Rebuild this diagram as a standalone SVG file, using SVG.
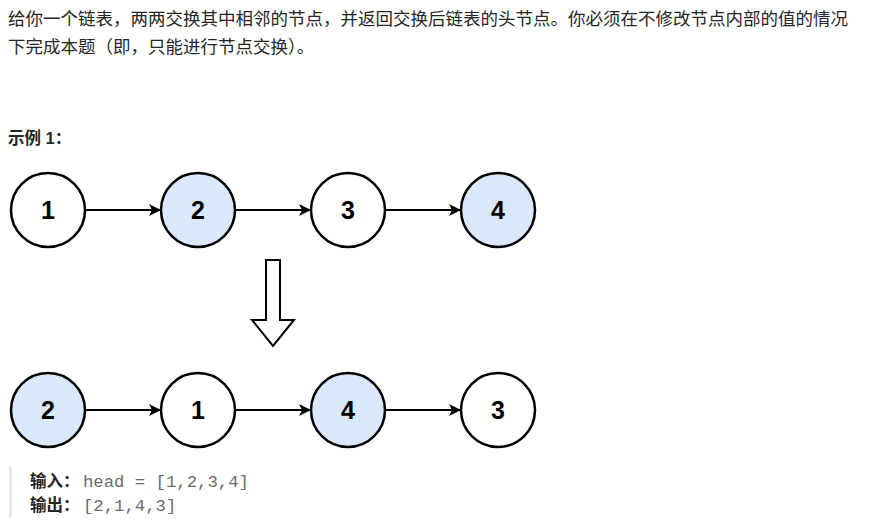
<svg xmlns="http://www.w3.org/2000/svg" width="871" height="525" viewBox="0 0 871 525">
<defs>
<style>
.t{font-family:"Liberation Sans","Noto Sans CJK SC",sans-serif;fill:#262626}
.n circle{stroke:#000;stroke-width:2.5}
.n text{font-family:"Liberation Sans",Arial,sans-serif;font-weight:bold;font-size:25px;text-anchor:middle;fill:#000}
.w{fill:#fff}.b{fill:#dae8fc}
.c line{stroke:#000;stroke-width:2}
.m{font-family:"Liberation Mono","DejaVu Sans Mono",monospace;fill:#6b6b6b;font-size:17.3px}
</style>
<marker id="ah" markerWidth="12" markerHeight="12" refX="11" refY="6" orient="auto" markerUnits="userSpaceOnUse" viewBox="0 0 12 12">
<path d="M0,0 L12,6 L0,12 L3,6 z" fill="#000"/>
</marker>
</defs>
<rect width="871" height="525" fill="#fff"/>
<text class="t" x="8" y="25" font-size="17.5">给你一个链表，两两交换其中相邻的节点，并返回交换后链表的头节点。你必须在不修改节点内部的值的情况</text>
<text class="t" x="8" y="53" font-size="17.5">下完成本题（即，只能进行节点交换）。</text>
<text class="t" x="8" y="144" font-size="16.5" font-weight="bold">示例 1：</text>
<g class="c">
<line x1="86" y1="210" x2="160" y2="210" marker-end="url(#ah)"/>
<line x1="236" y1="210" x2="310" y2="210" marker-end="url(#ah)"/>
<line x1="386" y1="210" x2="460" y2="210" marker-end="url(#ah)"/>
<line x1="86" y1="410" x2="160" y2="410" marker-end="url(#ah)"/>
<line x1="236" y1="410" x2="310" y2="410" marker-end="url(#ah)"/>
<line x1="386" y1="410" x2="460" y2="410" marker-end="url(#ah)"/>
</g>
<g id="n1" class="n"><circle class="w" cx="48" cy="210" r="37"/><text x="48" y="219">1</text></g>
<g id="n2" class="n"><circle class="b" cx="198" cy="210" r="37"/><text x="198" y="219">2</text></g>
<g id="n3" class="n"><circle class="w" cx="348" cy="210" r="37"/><text x="348" y="219">3</text></g>
<g id="n4" class="n"><circle class="b" cx="498" cy="210" r="37"/><text x="498" y="219">4</text></g>
<g id="down"><path d="M266,260 H280 V320 H294 L273,346 L252,320 H266 Z" fill="#fff" stroke="#000" stroke-width="2"/></g>
<g id="m2" class="n"><circle class="b" cx="48" cy="410" r="37"/><text x="48" y="419">2</text></g>
<g id="m1" class="n"><circle class="w" cx="198" cy="410" r="37"/><text x="198" y="419">1</text></g>
<g id="m4" class="n"><circle class="b" cx="348" cy="410" r="37"/><text x="348" y="419">4</text></g>
<g id="m3" class="n"><circle class="w" cx="498" cy="410" r="37"/><text x="498" y="419">3</text></g>
<rect x="9" y="466" width="3" height="52" fill="#e8e8e8"/>
<text class="t" x="30" y="487" font-size="16.5" font-weight="bold">输入：</text>
<text class="m" x="83" y="487">head = [1,2,3,4]</text>
<text class="t" x="30" y="511" font-size="16.5" font-weight="bold">输出：</text>
<text class="m" x="83" y="511">[2,1,4,3]</text>
</svg>
